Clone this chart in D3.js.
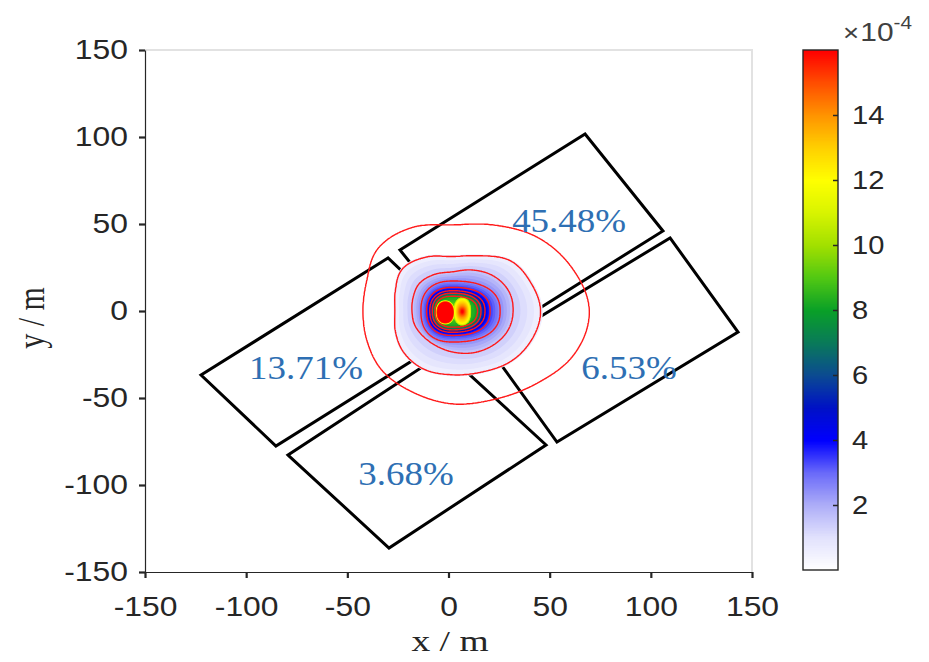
<!DOCTYPE html>
<html><head><meta charset="utf-8">
<script src="https://cdn.jsdelivr.net/npm/d3@7"></script>
<style>body{margin:0;background:#fff;} svg{display:block;}</style>
</head><body>
<svg id="chart" width="929" height="662"></svg>
<script>
// ---- axis ticks ----
const xTicks = [-150, -100, -50, 0, 50, 100, 150];
const yTicks = [-150, -100, -50, 0, 50, 100, 150];
const cbTicks = [2, 4, 6, 8, 10, 12, 14];

// ---- panel outlines (m), corners in drawing order ----
const panelTop    = [[-24.0, 35.1], [67.5, 101.7], [106.0, 46.0], [14.5, -20.6]];
const panelRight  = [[109.5, 42.0], [143.1, -12.1], [53.6, -75.3], [20.0, -21.2]];
const panelLeft   = [[-29.9, 30.5], [-122.3, -36.8], [-85.3, -77.6], [7.1, -10.3]];
const panelBottom = [[-79.3, -82.8], [-29.4, -136.2], [48.2, -77.0], [-1.7, -23.6]];

// ---- share of deposition on each panel ----
const shareLabels = ["45.48%", "13.71%", "6.53%", "3.68%"];
const shareX = [59.6, -70.4, 89.2, -21.0];
const shareY = [51.7, -32.8, -32.8, -93.7];

// ---- concentration field (x 1e-4): iso-rings around the source ----
const ringCenter = [2, 0];
// outer rings: radius (m) every 22.5 deg, counter-clockwise from +x
const ringLevels = [0.1, 0.5, 1.5];
const ringR1 = [67.5, 64.0, 59.6, 53.4, 49.4, 51.9, 51.5, 45.8, 44.2, 45.6, 48.8, 50.6, 53.3, 54.8, 58.8, 65.0];
const ringR2 = [43.4, 41.9, 40.6, 34.3, 31.2, 33.5, 34.6, 30.5, 28.4, 30.5, 33.9, 36.3, 36.6, 37.9, 40.8, 42.4];
const ringR3 = [29.9, 30.0, 28.5, 25.5, 22.5, 22.8, 22.8, 21.0, 20.0, 20.3, 20.5, 21.5, 23.5, 26.0, 28.0, 29.5];
// inner rings: reach (m) towards east, north, west, south
const innerLevels = [2.5, 3.5, 4.5, 6, 8];
const innerE = [23.5, 18.5, 16.0, 14.0, 12.4];
const innerN = [17.2, 13.5, 11.6, 10.2, 8.6];
const innerW = [15.6, 12.8, 11.2, 10.0, 8.8];
const innerS = [17.8, 14.0, 12.2, 10.8, 9.4];
const ringPeak = 10;
// two hot spots in the core
const hotCx = [-1.6, 6.8];
const hotCy = [-0.8, -0.3];
const hotLevels = [[8, 16], [10, 12, 14]];
const hotRx = [[4.8, 4.0], [4.4, 3.6, 2.1]];
const hotRy = [[7.0, 6.0], [8.0, 7.0, 3.4]];
const hotPeak = [18, 16.5];

// contour lines drawn on top of the filled field
const lineLevels = [0.1, 0.5, 1.5, 2.5, 3.5, 4.5, 6, 8];

// colour map (x 1e-4)
const cmapStops = [0, 1, 2, 3, 4, 5, 6, 7, 8, 9, 10, 11, 12, 13, 14, 15, 16];
const cmapColors = ["#ffffff", "#e2e2fd", "#aeaef8", "#6a6af9", "#0000ff", "#0012c6", "#0c4b92",
  "#0a7a5a", "#0aa028", "#52c814", "#a2e000", "#d8f400", "#ffff00", "#ffd000", "#ff9400", "#ff4e00", "#ff0000"];

// ---------------------------------------------------------------
const svg = d3.select("#chart");
const x = d3.scaleLinear().domain([-150, 150]).range([145, 752]);
const y = d3.scaleLinear().domain([-150, 150]).range([572, 50]);
const color = d3.scaleLinear().domain(cmapStops).range(cmapColors).clamp(true);

// radius along a ring sampled at equal angles (periodic Catmull-Rom)
function sampledRing(radii) {
  const n = radii.length, step = 360 / n;
  return th => {
    const t = (((th % 360) + 360) % 360) / step;
    const i = Math.floor(t), f = t - i;
    const p0 = radii[(i - 1 + n) % n], p1 = radii[i % n], p2 = radii[(i + 1) % n], p3 = radii[(i + 2) % n];
    return 0.5 * (2 * p1 + (-p0 + p2) * f + (2 * p0 - 5 * p1 + 4 * p2 - p3) * f * f + (-p0 + 3 * p1 - 3 * p2 + p3) * f * f * f);
  };
}
// rounded ring given reach in four directions
function quadRing(e, n, w, s, p) {
  return th => {
    const t = th * Math.PI / 180, c = Math.cos(t), si = Math.sin(t);
    const a = c >= 0 ? e : w, b = si >= 0 ? n : s;
    return Math.pow(Math.pow(Math.abs(c) / a, p) + Math.pow(Math.abs(si) / b, p), -1 / p);
  };
}
// value on a nest of rings, linear between neighbouring rings
function radialValue(dx, dy, rings, peak, outside) {
  const r = Math.hypot(dx, dy);
  const th = Math.atan2(dy, dx) * 180 / Math.PI;
  const R = rings.map(g => g.R(th));
  if (r >= R[0]) return outside(r, R[0], rings[0].level);
  for (let k = 0; k < rings.length - 1; k++) {
    if (r >= R[k + 1]) {
      const f = (R[k] - r) / (R[k] - R[k + 1]);
      return rings[k].level + f * (rings[k + 1].level - rings[k].level);
    }
  }
  const last = rings.length - 1;
  return rings[last].level + (1 - r / R[last]) * (peak - rings[last].level);
}

const mainRings = [ringR1, ringR2, ringR3].map((rr, i) => ({ level: ringLevels[i], R: sampledRing(rr) }))
  .concat(innerLevels.map((lv, i) => ({ level: lv, R: quadRing(innerE[i], innerN[i], innerW[i], innerS[i], 2.4) })));
const hotRings = hotCx.map((_, h) => hotLevels[h].map((lv, k) => ({ level: lv, R: quadRing(hotRx[h][k], hotRy[h][k], hotRx[h][k], hotRy[h][k], 2.2) })));

function field(px, py) {
  let v = radialValue(px - ringCenter[0], py - ringCenter[1], mainRings, ringPeak,
    (r, R0, L0) => L0 * Math.pow(R0 / r, 3));
  for (let h = 0; h < hotCx.length; h++) {
    const hv = radialValue(px - hotCx[h], py - hotCy[h], hotRings[h], hotPeak[h], () => 0);
    if (hv > v) v = hv;
  }
  return v;
}

// sample the field on a regular grid
const gx0 = -56, gy1 = 58, gStep = 0.35;
const nx = Math.round((84 - gx0) / gStep), ny = Math.round((gy1 + 64) / gStep);
const grid = new Float64Array(nx * ny);
for (let j = 0; j < ny; j++) {
  const py = gy1 - j * gStep;
  for (let i = 0; i < nx; i++) grid[j * nx + i] = field(gx0 + i * gStep, py);
}
const toScreen = d3.geoTransform({
  point: function (gx, gy) {
    this.stream.point(x(gx0 + (gx - 0.5) * gStep), y(gy1 - (gy - 0.5) * gStep));
  }
});
const gpath = d3.geoPath(toScreen);

// clip to plot area
svg.append("defs").append("clipPath").attr("id", "plotClip")
  .append("rect").attr("x", x(-150)).attr("y", y(150))
  .attr("width", x(150) - x(-150)).attr("height", y(-150) - y(150));

// panels
const panelLine = d3.line().x(d => x(d[0])).y(d => y(d[1])).curve(d3.curveLinearClosed);
svg.append("g").attr("clip-path", "url(#plotClip)")
  .selectAll("path").data([panelTop, panelRight, panelLeft, panelBottom]).join("path")
  .attr("d", panelLine).attr("fill", "none").attr("stroke", "#000")
  .attr("stroke-width", 3).attr("stroke-linejoin", "miter");

// filled field
const fillLevels = d3.range(0.48, 16.2, 0.25);
const fills = d3.contours().size([nx, ny]).thresholds(fillLevels)(grid);
svg.append("g").attr("clip-path", "url(#plotClip)")
  .selectAll("path").data(fills).join("path")
  .attr("d", gpath).attr("fill", d => color(d.value + 0.12)).attr("stroke", "none");

// contour lines
const lines = d3.contours().size([nx, ny]).thresholds(lineLevels)(grid);
svg.append("g").attr("clip-path", "url(#plotClip)")
  .selectAll("path").data(lines).join("path")
  .attr("d", gpath).attr("fill", "none").attr("stroke", "#ff1a1a")
  .attr("stroke-width", 1.4).attr("stroke-linejoin", "round");

// share labels
const serif = "'Liberation Serif','Times New Roman',serif";
svg.append("g").selectAll("text").data(shareLabels).join("text")
  .attr("transform", (d, i) => `translate(${x(shareX[i])},${y(shareY[i])}) scale(1.12,1)`)
  .attr("text-anchor", "middle").attr("dominant-baseline", "central")
  .attr("font-family", serif).attr("font-size", 33).attr("fill", "#2e6fb3").text(d => d);

// box (top/right)
svg.append("path")
  .attr("d", `M${x(-150)},${y(150)}H${x(150)}V${y(-150)}`)
  .attr("fill", "none").attr("stroke", "#e2e2e2").attr("stroke-width", 2);

// axes
const tickFont = "'Liberation Sans', Arial, sans-serif";
const stretch = 1.18;
const gx = svg.append("g").attr("transform", `translate(0,${y(-150)})`)
  .call(d3.axisBottom(x).tickValues(xTicks).tickFormat(d => String(d)).tickSize(6).tickSizeOuter(0).tickPadding(19));
const gy = svg.append("g").attr("transform", `translate(${x(-150)},0)`)
  .call(d3.axisLeft(y).tickValues(yTicks).tickFormat(d => String(d)).tickSize(6).tickSizeOuter(0).tickPadding(11));
[gx, gy].forEach(g => {
  g.select(".domain").attr("stroke", "#262626").attr("stroke-width", 1.2);
  g.selectAll(".tick line").attr("stroke", "#262626").attr("stroke-width", 2.2);
  g.selectAll(".tick text").attr("fill", "#262626").attr("font-family", tickFont).attr("font-size", 27)
    .attr("transform", `scale(${stretch},1)`);
});
gy.selectAll(".tick text").attr("x", -17 / stretch);

// axis titles
svg.append("text").attr("transform", "translate(450,651) scale(1.25,1)").attr("text-anchor", "middle")
  .attr("font-family", serif).attr("font-size", 30).attr("fill", "#262626").text("x / m");
svg.append("text").attr("transform", "translate(44,318) rotate(-90) scale(1,1.25)").attr("text-anchor", "middle")
  .attr("font-family", serif).attr("font-size", 30).attr("fill", "#262626").text("y / m");

// colour bar
const cbX = 803, cbW = 35;
const cb = d3.scaleLinear().domain([0, 16]).range([570, 50]);
const cbG = svg.append("g");
const cbSteps = d3.range(0, 16, 16 / 520);
cbG.selectAll("rect").data(cbSteps).join("rect")
  .attr("x", cbX).attr("width", cbW)
  .attr("y", d => cb(d + 16 / 520)).attr("height", d => cb(d) - cb(d + 16 / 520) + 0.6)
  .attr("fill", d => color(d + 8 / 520));
cbG.append("rect").attr("x", cbX).attr("y", cb(16)).attr("width", cbW).attr("height", cb(0) - cb(16))
  .attr("fill", "none").attr("stroke", "#262626").attr("stroke-width", 1.4);
const cbAxis = svg.append("g").attr("transform", `translate(${cbX + cbW},0)`)
  .call(d3.axisRight(cb).tickValues(cbTicks).tickFormat(d => String(d)).tickSize(-5).tickSizeOuter(0).tickPadding(14));
cbAxis.select(".domain").remove();
cbAxis.selectAll(".tick line").attr("stroke", "#262626").attr("stroke-width", 1.5);
cbAxis.selectAll(".tick text").attr("fill", "#262626").attr("font-family", tickFont).attr("font-size", 26)
  .attr("transform", `scale(1.12,1)`).attr("x", 14 / 1.12);

const exp = svg.append("text").attr("transform", "translate(843,41) scale(1.15,1)")
  .attr("font-family", tickFont).attr("fill", "#404040");
exp.append("tspan").attr("font-size", 24).text("\u00d7");
exp.append("tspan").attr("font-size", 26).attr("dx", 1).text("10");
exp.append("tspan").attr("font-size", 18).attr("dy", -12).text("-4");
</script>
</body></html>
